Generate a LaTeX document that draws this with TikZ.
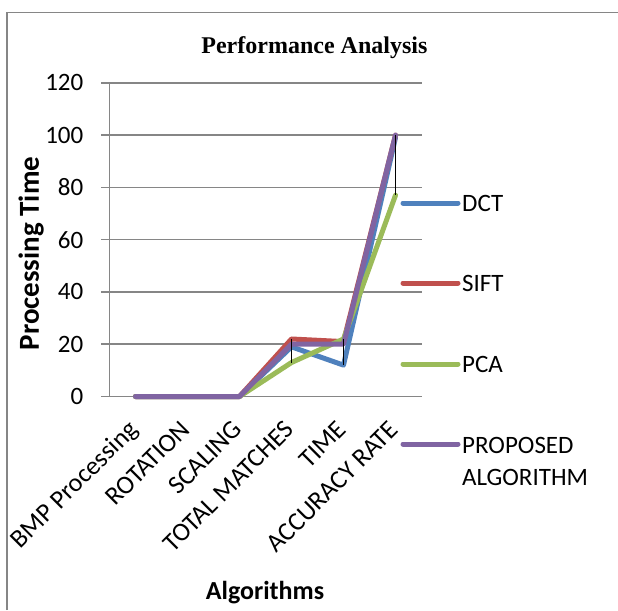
\documentclass[tikz,border=0pt]{standalone}
\usepackage{fontspec}
\setmainfont{Carlito}
\newfontfamily\titlefont{Liberation Serif}
\usetikzlibrary{positioning}
\definecolor{pablue}{HTML}{4F81BD}
\definecolor{pared}{HTML}{C0504D}
\definecolor{pagreen}{HTML}{9BBB59}
\definecolor{papurple}{HTML}{8064A2}
\definecolor{pagrid}{HTML}{868686}

\begin{document}
\begin{tikzpicture}[x=1pt, y=-1pt,
    grid/.style={draw=pagrid, line width=1.6pt},
    series/.style={draw=#1, line width=5pt, line cap=round, line join=round},
    hilo/.style={draw=black, line width=1.4pt},
    lbl/.style={inner sep=0pt, font=\fontsize{25}{30}\selectfont},
    catlbl/.style={lbl, font=\fontsize{26}{30}\selectfont, rotate=45, anchor=base east}
  ]
    \useasboundingbox (0,0) rectangle (618,610);
    % chart frame
    \draw[grid] (6.7,610) -- (6.7,12.7) -- (618,12.7);
    \node[anchor=base, inner sep=0pt, font=\titlefont\bfseries\fontsize{24}{28}\selectfont] (ti) at (314.4,53.3) {Performance Analysis};

    % plot area: one unit per category, value axis 0..120
    \begin{scope}[shift={(109.5,396.5)}, x=52pt, y=2.614pt]
      \foreach \v in {0,20,...,120} {
        \draw[grid] (-0.16,\v) -- (6,\v);
        \node[lbl, anchor=east] (y\v) at (-0.5,\v) {\v};
      }
      \draw[grid] (0,0) -- (0,120);

      \draw[series=pablue] (0.5,0) -- (1.5,0) -- (2.5,0) -- (3.5,19) -- (4.5,12) -- (5.5,99);
      \draw[series=pared] (0.5,0) -- (1.5,0) -- (2.5,0) -- (3.5,22) -- (4.5,21) -- (5.5,100);
      \draw[series=pagreen] (0.5,0) -- (1.5,0) -- (2.5,0) -- (3.5,13) -- (4.5,22) -- (5.5,77);
      \draw[series=papurple] (0.5,0) -- (1.5,0) -- (2.5,0) -- (3.5,20) -- (4.5,20) -- (5.5,100);

      % high-low lines
      \draw[hilo] (3.5,22) -- (3.5,13);
      \draw[hilo] (4.5,22) -- (4.5,12);
      \draw[hilo] (5.5,100) -- (5.5,77);

      \foreach \c [count=\i] in {BMP Processing, ROTATION, SCALING, TOTAL MATCHES, TIME, ACCURACY RATE}
        \node[catlbl] (c\i) at (\i-0.5+0.077,-13.2) {\c};
    \end{scope}

    \node[rotate=90, anchor=base, inner sep=0pt, font=\bfseries\fontsize{29}{34}\selectfont] (ylab) at (38.8,253.5) {Processing Time};
    \node[anchor=base, inner sep=0pt, font=\bfseries\fontsize{26}{30}\selectfont] (xlab) at (265,599) {Algorithms};

    % legend
    \draw[series=pablue] (403,203) -- (458,203);
    \node[lbl, anchor=base west] (ldct) at (462,211.5) {DCT};
    \draw[series=pared] (403,283) -- (458,283);
    \node[lbl, anchor=base west] (lsift) at (462,291.5) {SIFT};
    \draw[series=pagreen] (403,364) -- (458,364);
    \node[lbl, anchor=base west] (lpca) at (462,372.5) {PCA};
    \draw[series=papurple] (403,444) -- (458,444);
    \node[lbl, anchor=north west, align=left, font=\fontsize{25}{32}\selectfont] (lprop) at (462,437) {PROPOSED\\ALGORITHM};
  \end{tikzpicture}
\end{document}
